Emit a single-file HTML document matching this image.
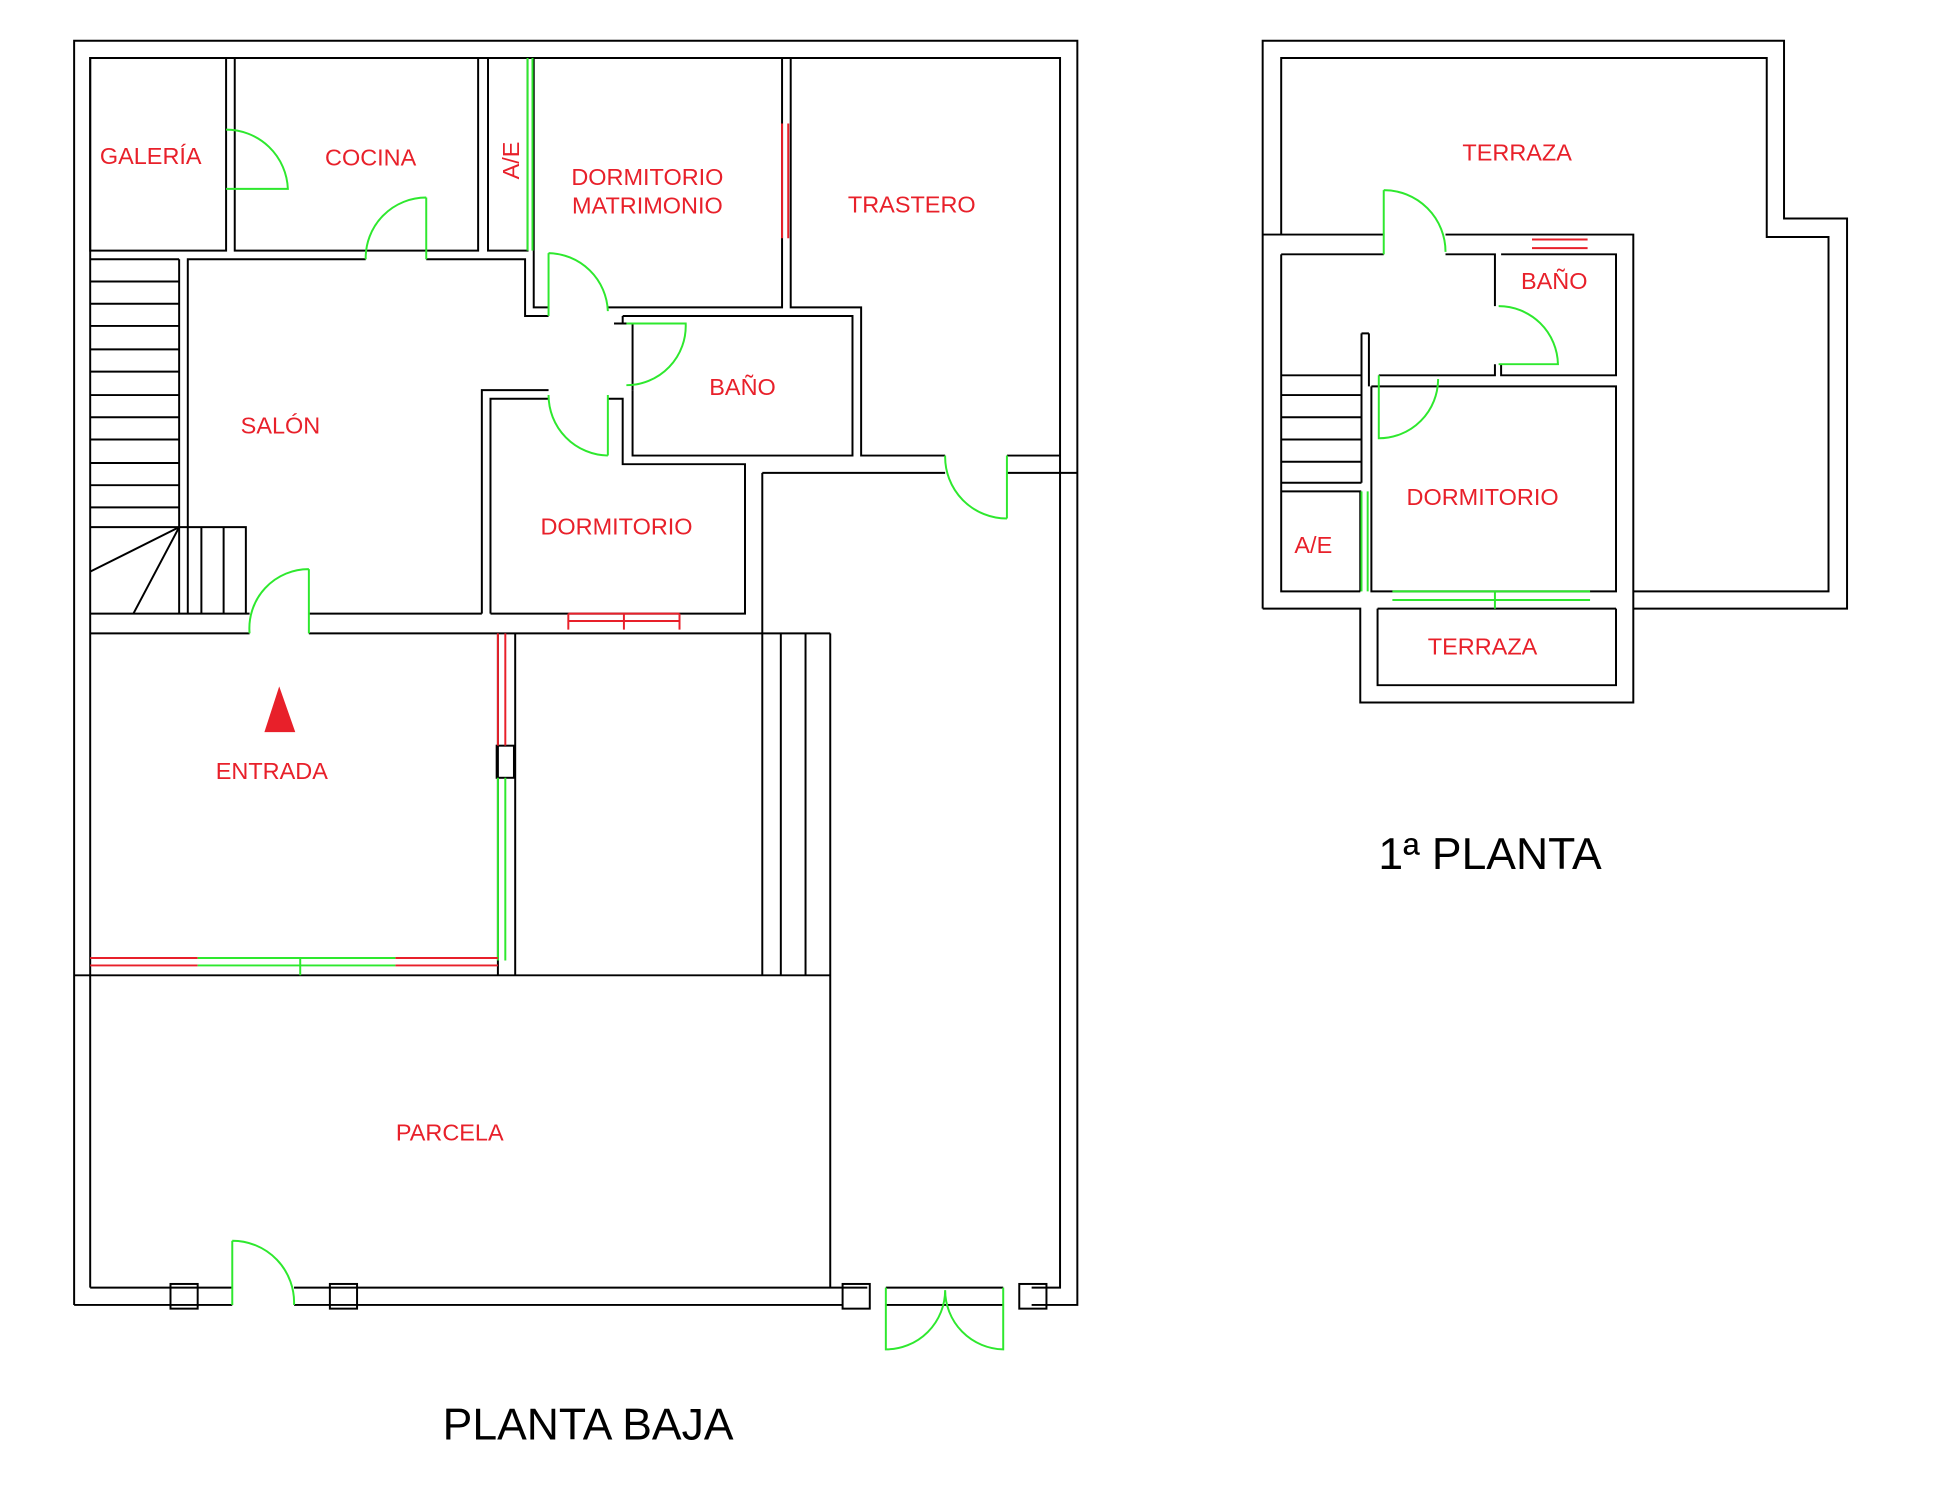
<!DOCTYPE html>
<html><head><meta charset="utf-8"><style>
html,body{margin:0;padding:0;background:#fff}
svg{display:block}
.w{fill:none;stroke:#000;stroke-width:1.6}
.d{fill:none;stroke:#2ee82e;stroke-width:1.6}
.r{fill:none;stroke:#e8202a;stroke-width:1.6}
.g{fill:none;stroke:#2ee82e;stroke-width:1.6}
.t{fill:#e8202a;font-family:"Liberation Sans",sans-serif;font-size:19px;text-anchor:middle}
.h{fill:#000;font-family:"Liberation Sans",sans-serif;font-size:36px;text-anchor:middle}
</style></head><body>
<svg width="1936" height="1500" viewBox="0 0 1567 1215" preserveAspectRatio="none">
<rect width="1567" height="1215" fill="#fff"/>
<path class="w" d="M60,1057 L60,33 L872,33 L872,1057 L835,1057 M812,1057 L717,1057 M682,1057 L238,1057 M188,1057 L60,1057"/>
<path class="w" d="M73,1043 L73,47 L858,47 L858,1043 L835,1043 M812,1043 L717,1043 M702,1043 L238,1043 M188,1043 L73,1043"/>
<rect class="w" x="73" y="47" width="110" height="156"/>
<rect class="w" x="190" y="47" width="197" height="156"/>
<rect class="w" x="395" y="47" width="32" height="156"/>
<path class="w" d="M432,47 L432,249 L444,249 M492,249 L633,249 L633,47"/>
<path class="w" d="M640,47 L640,249 L697,249 L697,369 L765,369 M815,369 L858,369"/>
<path class="w" d="M617,383 L765,383 M815,383 L872,383 M617,383 L617,790"/>
<path class="w" d="M152,497 L152,210 L296,210 M345,210 L425,210 L425,256 L444,256 M390,497 L390,316 L444,316"/>
<path class="w" d="M73,497 L202,497 M250,497 L390,497 M73,513 L202,513 M250,513 L672,513"/>
<path class="w" d="M504,256 L690,256 L690,369 L512,369 L512,316"/>
<path class="w" d="M504,256 L504,262 M497,262 L512,262 L512,316"/>
<path class="w" d="M397,497 L397,323 L444,323 M492,323 L504,323 L504,376 L603,376 L603,497 L397,497"/>
<path class="w" d="M145,210 L145,497 M73,210 L145,210"/>
<path class="w" d="M73,228H145M73,246H145M73,264H145M73,283H145M73,301H145M73,320H145M73,338H145M73,356H145M73,375H145M73,393H145M73,411H145"/>
<path class="w" d="M73,427 L199,427 L199,497 M163,427 L163,497 M181,427 L181,497 M145,427 L73,463 M145,427 L108,497"/>
<path class="w" d="M403,513 L403,790 M417,513 L417,790 M60,790 L672,790 M632,513 L632,790 M652,513 L652,790 M672,513 L672,1043"/>
<rect class="w" x="402" y="604" width="14" height="26" fill="#fff"/>
<path class="r" d="M403,513 V604 M409,513 V604"/>
<path class="g" d="M403,630 V778 M409,630 V778"/>
<path class="r" d="M73,776 H160 M73,782 H160 M320,776 H403 M320,782 H403"/>
<path class="g" d="M160,776 H320 M160,782 H320 M243,776 V790"/>
<path class="r" d="M460,497 H550 M460,503 H550 M460,497 V510 M550,497 V510 M505,497 V510"/>
<path class="r" d="M633,100 V193 M638,100 V193"/>
<path class="g" d="M427,47 V203 M431,47 V203"/>
<rect class="w" x="138" y="1040" width="22" height="20" fill="#fff"/>
<rect class="w" x="267" y="1040" width="22" height="20" fill="#fff"/>
<rect class="w" x="682" y="1040" width="22" height="20" fill="#fff"/>
<rect class="w" x="825" y="1040" width="22" height="20" fill="#fff"/>
<path class="d" d="M183,105 A50,50 0 0 1 233,153 L183,153"/>
<path class="d" d="M345,160 L345,210 M296,210 A49,49 0 0 1 345,160"/>
<path class="d" d="M444,205 L444,256 M444,205 A49,49 0 0 1 492,252"/>
<path class="d" d="M507,262 L555,262 A48,48 0 0 1 507,312"/>
<path class="d" d="M492,320 L492,369 M444,320 A49,49 0 0 0 492,369"/>
<path class="d" d="M250,461 L250,513 M202,513 A48,48 0 0 1 250,461"/>
<path class="d" d="M815,369 L815,420 M765,369 A50,50 0 0 0 815,420"/>
<path class="d" d="M188,1005 L188,1057 M188,1005 A50,50 0 0 1 238,1057"/>
<path class="d" d="M717,1043 L717,1093 A48,48 0 0 0 765,1045 M812,1043 L812,1093 A48,48 0 0 1 765,1045"/>
<text class="t" x="122" y="133">GALERÍA</text>
<text class="t" x="300" y="134">COCINA</text>
<text class="t" x="420" y="130" transform="rotate(-90 420 130)">A/E</text>
<text class="t" x="524" y="150">DORMITORIO</text>
<text class="t" x="524" y="173">MATRIMONIO</text>
<text class="t" x="738" y="172">TRASTERO</text>
<text class="t" x="601" y="320">BAÑO</text>
<text class="t" x="227" y="351">SALÓN</text>
<text class="t" x="499" y="433">DORMITORIO</text>
<text class="t" x="220" y="631">ENTRADA</text>
<polygon points="226,556 214,593 239,593" fill="#e8202a"/>
<text class="t" x="364" y="924">PARCELA</text>
<text class="h" x="476" y="1166">PLANTA BAJA</text>
<path class="w" d="M1022,493 L1022,33 L1444,33 L1444,177 L1495,177 L1495,493 L1322,493"/>
<path class="w" d="M1037,190 L1037,47 L1430,47 L1430,192 L1480,192 L1480,479 L1322,479"/>
<path class="w" d="M1022,190 L1120,190 M1170,190 L1322,190 L1322,569 L1101,569 L1101,493 L1022,493"/>
<path class="w" d="M1037,206 L1120,206 M1170,206 L1210,206 L1210,248 M1210,295 L1210,304 L1116,304 M1102,304 L1037,304 M1037,206 L1037,479 L1101,479"/>
<path class="w" d="M1215,206 L1308,206 L1308,304 L1215,304 L1215,295"/>
<path class="w" d="M1110,313 L1308,313 L1308,479 L1110,479 L1110,313"/>
<path class="w" d="M1102,270 L1102,391 M1108,270 L1108,313 M1102,270 L1108,270"/>
<path class="w" d="M1037,320H1102M1037,338H1102M1037,356H1102M1037,374H1102M1037,391H1102"/>
<path class="w" d="M1037,398 L1101,398 L1101,479"/>
<path class="w" d="M1115,493 L1308,493 M1115,493 L1115,555 L1308,555 L1308,493"/>
<path class="r" d="M1240,194 H1285 M1240,201 H1285"/>
<path class="g" d="M1127,479 H1287 M1127,486 H1287 M1210,479 V493"/>
<path class="g" d="M1102,398 V479 M1107,398 V479"/>
<path class="d" d="M1120,154 L1120,206 M1120,154 A50,50 0 0 1 1170,204"/>
<path class="d" d="M1213,248 A48,48 0 0 1 1261,295 L1213,295"/>
<path class="d" d="M1116,304 L1116,355 A48,48 0 0 0 1164,307"/>
<text class="t" x="1228" y="130">TERRAZA</text>
<text class="t" x="1258" y="234">BAÑO</text>
<text class="t" x="1200" y="409">DORMITORIO</text>
<text class="t" x="1063" y="448">A/E</text>
<text class="t" x="1200" y="530">TERRAZA</text>
<text class="h" x="1206" y="704">1ª PLANTA</text>
</svg>
</body></html>
